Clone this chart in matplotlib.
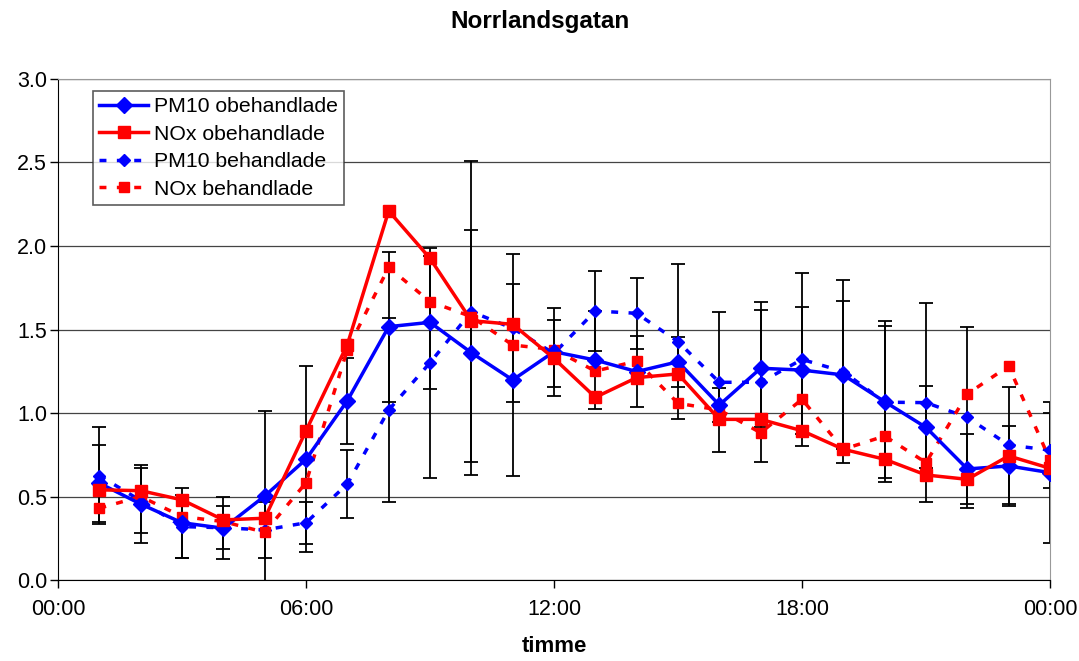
import matplotlib.pyplot as plt

plt.rcParams['font.family'] = ['Liberation Sans', 'DejaVu Sans']

hours = list(range(1, 25))

pm10_obeh = [0.58, 0.455, 0.343, 0.31, 0.503, 0.723, 1.074, 1.517, 1.543, 1.361, 1.198, 1.367,
             1.317, 1.248, 1.307, 1.048, 1.268, 1.257, 1.228, 1.068, 0.914, 0.665, 0.683, 0.643]
pm10_obeh_err = [0.23, 0.235, 0.21, 0.186, 0.51, 0.557, 0.257, 0.449, 0.40, 0.734, 0.574, 0.264,
                 0.295, 0.213, 0.149, 0.10, 0.349, 0.38, 0.445, 0.48, 0.245, 0.207, 0.24, 0.42]

nox_obeh = [0.54, 0.535, 0.48, 0.36, 0.37, 0.894, 1.41, 2.21, 1.926, 1.553, 1.531, 1.327,
            1.094, 1.212, 1.234, 0.962, 0.962, 0.894, 0.783, 0.723, 0.629, 0.603, 0.743, 0.669]

pm10_beh = [0.625, 0.475, 0.32, 0.313, 0.30, 0.343, 0.575, 1.018, 1.301, 1.607, 1.507, 1.357,
            1.611, 1.597, 1.427, 1.184, 1.184, 1.321, 1.248, 1.065, 1.062, 0.974, 0.808, 0.778]
pm10_beh_err = [0.29, 0.195, 0.19, 0.13, 0.17, 0.127, 0.204, 0.552, 0.69, 0.903, 0.444, 0.20,
                0.241, 0.213, 0.465, 0.42, 0.478, 0.519, 0.549, 0.457, 0.594, 0.54, 0.35, 0.225]

nox_beh = [0.43, 0.50, 0.38, 0.35, 0.286, 0.583, 1.38, 1.872, 1.667, 1.577, 1.407, 1.38,
           1.251, 1.311, 1.058, 1.018, 0.882, 1.082, 0.783, 0.862, 0.703, 1.114, 1.281, 0.719]

xticks = [0, 6, 12, 18, 24]
xticklabels = ["00:00", "06:00", "12:00", "18:00", "00:00"]


def main():
    fig = plt.figure(figsize=(10.79, 6.61), dpi=100)
    ax = fig.add_axes([0.0538, 0.1225, 0.9193, 0.758])

    ax.yaxis.grid(True, color="#444444", linewidth=0.9)
    ax.set_axisbelow(True)

    # error bars (PM10 series)
    ax.errorbar(hours, pm10_obeh, yerr=pm10_obeh_err, fmt="none", ecolor="black",
                elinewidth=1.3, capsize=5, capthick=1.3, zorder=2)
    ax.errorbar(hours, pm10_beh, yerr=pm10_beh_err, fmt="none", ecolor="black",
                elinewidth=1.3, capsize=5, capthick=1.3, zorder=2)

    ax.plot(hours, pm10_obeh, color="#0000ff", lw=2.5, marker="D", ms=8,
            label="PM10 obehandlade", zorder=4)
    ax.plot(hours, nox_obeh, color="#ff0000", lw=2.5, marker="s", ms=8,
            label="NOx obehandlade", zorder=4)
    ax.plot(hours, pm10_beh, color="#0000ff", lw=2.5, ls=(0, (2, 3)), marker="D", ms=6,
            label="PM10 behandlade", zorder=3)
    ax.plot(hours, nox_beh, color="#ff0000", lw=2.5, ls=(0, (2, 3)), marker="s", ms=7,
            label="NOx behandlade", zorder=3)

    ax.set_xlim(0, 24)
    ax.set_ylim(0, 3.0)
    ax.set_xticks(xticks)
    ax.set_xticklabels(xticklabels)
    ax.set_yticks([0, 0.5, 1.0, 1.5, 2.0, 2.5, 3.0])
    ax.set_yticklabels(["0.0", "0.5", "1.0", "1.5", "2.0", "2.5", "3.0"])
    ax.tick_params(axis="both", labelsize=15.5, direction="out", length=6, width=1)
    ax.tick_params(axis="x", pad=8)
    ax.tick_params(axis="y", pad=2)

    for side in ["top", "right"]:
        ax.spines[side].set_color("#999999")
    for side in ["left", "bottom"]:
        ax.spines[side].set_color("black")

    ax.set_xlabel("timme", fontsize=16, fontweight="bold", labelpad=11)
    fig.suptitle("Norrlandsgatan", fontsize=17.5, fontweight="bold", y=0.985)

    leg = ax.legend(loc="upper left", bbox_to_anchor=(0.031, 0.985), fontsize=15.3,
                    frameon=True, fancybox=False, edgecolor="#333333", handlelength=2.3,
                    borderpad=0.3, labelspacing=0.4, handletextpad=0.25,
                    borderaxespad=0.2)
    leg.get_frame().set_linewidth(1.2)

    fig.savefig("out.png", dpi=100)
    plt.close(fig)


if __name__ == "__main__":
    main()
